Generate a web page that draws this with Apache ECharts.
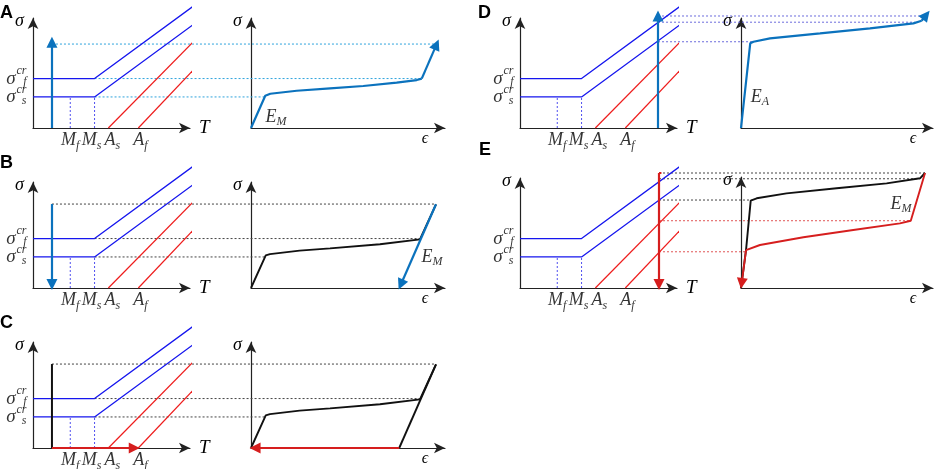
<!DOCTYPE html>
<html><head><meta charset="utf-8">
<script src="https://cdn.jsdelivr.net/npm/echarts@6/dist/echarts.min.js"></script>
<style>html,body{margin:0;padding:0;background:#fff}#c{width:941px;height:469px}</style>
</head><body><div id="c"></div>
<script>
// ---------------- data (schematic units) ----------------
// phase diagram: transformation temperatures Mf, Ms, As, Af
const transT = [23, 38, 46.5, 65];
const transLabels = [['M', 'f'], ['M', 's'], ['A', 's'], ['A', 'f']];
// critical stresses [sigma_s^cr, sigma_f^cr]
const critStress = [27, 43];
const critLabels = ['s', 'f'];
const lineEndT = 99;
const blueEndStress = [90, 106];   // sigma_s(T), sigma_f(T) lines at lineEndT
const redEndStress = [75, 50.5];   // As line, Af line at lineEndT
// loading paths
const loadTcold = 11.7, loadStressCold = 73;
const loadThotD = 85.2, loadStressD = 97.4;
const loadThotE = 85.8, loadStressE = 100;
// stress-strain curves
const curveA = [[0, 0], [8.8, 28.1], [11.9, 29.8], [28.2, 32.4], [48.8, 34.5], [69.3, 36.5], [89.9, 39.4], [102.3, 41.7], [105.4, 42.9]];
const curveAEnd = [114.5, 72.5];
const curveB = [[0, 0], [9.1, 28.4], [11.7, 29.5], [30, 32.5], [48.8, 34.5], [79.6, 38], [104.3, 42.3], [114.2, 72.8]];
const unloadStrainB = 91.5;
const curveD = [[0, 0], [5.7, 73.6], [7.7, 75], [17.9, 78], [48.8, 82.3], [79.6, 86.7], [106.4, 91], [111.5, 93.3]];
const curveDEnd = [114.3, 98.2];
const curveELoad = [[0, 0], [3.1, 33], [6, 75.9], [9.7, 78], [28.1, 82.3], [59, 86.7], [89.9, 91], [110.5, 95.4], [113.6, 100]];
const curveEUnload = [[113.6, 100], [104.8, 58.5], [98.1, 56.2], [69.3, 50.4], [38.5, 44.1], [11.7, 37.4], [3.1, 33]];
const curveEUnloadEnd = [0.4, 4];
// dotted connectors: [left grid, T start, stress, right grid, strain end]
const connA = [[0, 38, 43, 1, 105.4], [0, 38, 27, 1, 8.8], [0, 11.7, 73, 1, 114]];
const connB = [[2, 38, 43, 3, 104.3], [2, 38, 27, 3, 9.1], [2, 11.7, 73, 3, 114.2]];
const connC = [[4, 38, 43, 5, 104.3], [4, 38, 27, 5, 9.1], [4, 11.7, 73, 5, 114.2]];
const connD = [[6, 85.2, 97.4, 7, 112], [6, 85.2, 92, 7, 107.5], [6, 85.2, 75, 7, 7.7]];
const connE = [[8, 85.8, 100, 9, 113.6], [8, 85.8, 95, 9, 110.5], [8, 85.8, 76.5, 9, 6.5]];
const connERed = [[8, 85.8, 58.5, 9, 104.8], [8, 85.8, 31.5, 9, 3.1]];

// ---------------- layout ----------------
const SX = 1.62, SY = 1.15, HEAD = 5;
const W = 941, H = 469;
const layouts = [ // origin x, origin y, arrow tip x, arrow tip y
  [33, 128, 195, 13], [251, 128, 450, 13],
  [33, 288, 195, 177], [251, 288, 450, 177],
  [33, 448, 195, 337], [251, 448, 450, 337],
  [520, 128, 682, 13], [741, 128, 938, 13],
  [520, 288, 682, 173], [741, 288, 938, 172]];
const FONT = '"Liberation Serif","DejaVu Serif",serif';
const COL = { blue: '#1616ee', red: '#ee1c1c', load: '#0b72bd', dotA: '#2ea3dc', dotD: '#6b6bdc',
  dotK: '#444444', dotR: '#e05555', vdot: '#5050f0', black: '#111111', ered: '#d61e1e' };
const DOT = [2, 2];

const grids = [], xAxes = [], yAxes = [];
layouts.forEach(([ox, oy, tx, ty], i) => {
  const w = tx - HEAD - ox, h = oy - ty - HEAD;
  grids.push({ left: ox, top: ty + HEAD, width: w, height: h });
  const phase = i % 2 === 0;
  const axLine = { onZero: false, symbol: ['none', 'arrow'], symbolSize: [8, 11], lineStyle: { color: '#222', width: 1.2 } };
  xAxes.push({ gridIndex: i, type: 'value', min: 0, max: w / SX, axisLine: axLine, axisTick: { show: false },
    axisLabel: { show: false }, splitLine: { show: false },
    name: phase ? 'T' : 'ϵ', nameLocation: 'end', nameGap: phase ? 9 : -20,
    nameTextStyle: phase
      ? { fontFamily: FONT, fontStyle: 'italic', fontSize: 19, color: '#000', align: 'left', verticalAlign: 'middle' }
      : { fontFamily: FONT, fontStyle: 'italic', fontSize: 16, color: '#000', align: 'center', verticalAlign: 'top', padding: [3, 0, 0, 0] } });
  yAxes.push({ gridIndex: i, type: 'value', min: 0, max: h / SY, axisLine: axLine, axisTick: { show: false },
    axisLabel: { show: false }, splitLine: { show: false },
    name: 'σ', nameLocation: 'end', nameGap: -3,
    nameTextStyle: { fontFamily: FONT, fontStyle: 'italic', fontSize: 18, color: '#000', align: 'right', verticalAlign: 'middle', padding: [0, 9, 0, 0] } });
});
// full-canvas overlay system used only for the dotted lines that span two plots
const OV = layouts.length;
grids.push({ left: 0, top: 0, width: W, height: H });
xAxes.push({ gridIndex: OV, type: 'value', min: 0, max: W, show: false });
yAxes.push({ gridIndex: OV, type: 'value', min: 0, max: H, inverse: true, show: false });

// ---------------- helpers ----------------
const series = [];
function line(gi, data, color, width, type, z) {
  series.push({ type: 'line', xAxisIndex: gi, yAxisIndex: gi, data, symbol: 'none', clip: false, silent: true,
    lineStyle: { color, width, type: type || 'solid' }, z: z || 3, animation: false });
}
function arrow(gi, from, to, color, width, z) {
  series.push({ type: 'lines', coordinateSystem: 'cartesian2d', xAxisIndex: gi, yAxisIndex: gi, clip: false, silent: true,
    data: [{ coords: [from, to] }], symbol: ['none', 'triangle'], symbolSize: [8, 11],
    lineStyle: { color, width, opacity: 1, curveness: 0 }, z: z || 5, animation: false });
}
function txt(gi, pt, formatter, pos, distance, offset, rich, z) {
  series.push({ type: 'scatter', xAxisIndex: gi, yAxisIndex: gi, clip: false, silent: true, symbolSize: 1,
    itemStyle: { color: 'rgba(0,0,0,0)' }, data: [pt], z: z || 8, animation: false,
    label: { show: true, position: pos, distance, offset: offset || [0, 0], formatter, rich,
      fontFamily: FONT, fontStyle: 'italic', fontSize: 19, color: '#000' } });
}
const RICH = {
  m: { fontFamily: FONT, fontStyle: 'italic', fontSize: 18, color: '#000', lineHeight: 22 },
  b: { fontFamily: FONT, fontStyle: 'italic', fontSize: 12, color: '#000', lineHeight: 10, verticalAlign: 'bottom' },
  sm: { fontFamily: FONT, fontStyle: 'italic', fontSize: 12, color: '#000', lineHeight: 11 }
};

function phase(gi) {
  const [Mf, Ms] = transT;
  const [sS, sF] = critStress;
  line(gi, [[Mf, 0], [Mf, sS]], COL.vdot, 1, DOT, 2);
  line(gi, [[Ms, 0], [Ms, sS]], COL.vdot, 1, DOT, 2);
  line(gi, [[0, sF], [Ms, sF], [lineEndT, blueEndStress[1]]], COL.blue, 1.3);
  line(gi, [[0, sS], [Ms, sS], [lineEndT, blueEndStress[0]]], COL.blue, 1.3);
  line(gi, [[transT[2], 0], [lineEndT, redEndStress[0]]], COL.red, 1.2);
  line(gi, [[transT[3], 0], [lineEndT, redEndStress[1]]], COL.red, 1.2);
  critStress.forEach((s, k) => {
    txt(gi, [0, s], 'σ', 'left', 17, [0, 0], null);
    txt(gi, [0, s], '{sm|cr}\n{sm|' + critLabels[k] + '}', 'left', 6, [0, -2], RICH);
  });
  const offs = [[0, 0], [-3, 0], [4, 0], [2, 0]];
  transT.forEach((t, k) => {
    txt(gi, [t, 0], '{m|' + transLabels[k][0] + '}{b|' + transLabels[k][1] + '}', 'bottom', 1, offs[k], RICH);
  });
}

// ---------------- panels ----------------
// A
phase(0);
arrow(0, [loadTcold, 0], [loadTcold, loadStressCold + 1.5], COL.load, 2.2);
line(1, curveA, COL.load, 2.2);
arrow(1, curveA[curveA.length - 1], curveAEnd, COL.load, 2.2);
txt(1, [15.4, 9.6], '{m|E}{b|M}', 'inside', 0, [0, 0], RICH);
// B
phase(2);
arrow(2, [loadTcold, loadStressCold], [loadTcold, 3], COL.load, 2.2);
line(3, curveB, COL.black, 1.9);
arrow(3, curveB[curveB.length - 1], [unloadStrainB + 1, 3], COL.load, 2.2);
txt(3, [111.7, 27], '{m|E}{b|M}', 'inside', 0, [0, 0], RICH);
// C
phase(4);
line(4, [[loadTcold, loadStressCold], [loadTcold, 0]], COL.black, 2);
arrow(4, [loadTcold, 0], [transT[3] - 2.5, 0], COL.ered, 2.2);
line(5, curveB, COL.black, 1.9);
line(5, [curveB[curveB.length - 1], [unloadStrainB, 0]], COL.black, 1.9);
arrow(5, [unloadStrainB, 0], [2.5, 0], COL.ered, 2.2);
// D
phase(6);
arrow(6, [loadThotD, 0], [loadThotD, loadStressD], COL.load, 2.2);
line(7, curveD, COL.load, 2.2);
arrow(7, curveD[curveD.length - 1], curveDEnd, COL.load, 2.2);
txt(7, [11.7, 27], '{m|E}{b|A}', 'inside', 0, [0, 0], RICH);
// E
phase(8);
arrow(8, [loadThotE, loadStressE], [loadThotE, 3], COL.ered, 2.2);
line(8, [[loadThotE, loadStressE], [loadThotE + 1.5, loadStressE]], COL.ered, 2);
line(9, curveELoad, COL.black, 1.9);
line(9, curveEUnload, COL.ered, 1.9, 'solid', 4);
arrow(9, curveEUnload[curveEUnload.length - 1], curveEUnloadEnd, COL.ered, 1.9);
txt(9, [98.8, 73], '{m|E}{b|M}', 'inside', 0, [0, 0], RICH);

const letters = [['A', 0, 4], ['B', 0, 154], ['C', 0, 314], ['D', 478, 4], ['E', 479, 141]];
const option = {
  animation: false,
  backgroundColor: '#fff',
  grid: grids, xAxis: xAxes, yAxis: yAxes, series,
  graphic: letters.map(([t, x, y]) => ({ type: 'text', left: x, top: y, z: 100,
    style: { text: t, font: 'bold 18px "Liberation Sans", Arial, sans-serif', fill: '#000' } }))
};
const chart = echarts.init(document.getElementById('c'), null, { renderer: 'canvas', width: W, height: H });
chart.setOption(option);

// dotted connectors: both ends go through their own plot's scales, then into the overlay system
function connectors(list, color) {
  list.forEach(([lg, t, s, rg, e]) => {
    const a = chart.convertFromPixel({ gridIndex: OV }, chart.convertToPixel({ gridIndex: lg }, [t, s]));
    const b = chart.convertFromPixel({ gridIndex: OV }, chart.convertToPixel({ gridIndex: rg }, [e, s]));
    line(OV, [a, [b[0], a[1]]], color, 1, DOT, 1);
  });
}
connectors(connA, COL.dotA);
connectors(connB, COL.dotK);
connectors(connC, COL.dotK);
connectors(connD, COL.dotD);
connectors(connE, COL.dotK);
connectors(connERed, COL.dotR);
option.series = series;
chart.setOption(option, true);
</script></body></html>
